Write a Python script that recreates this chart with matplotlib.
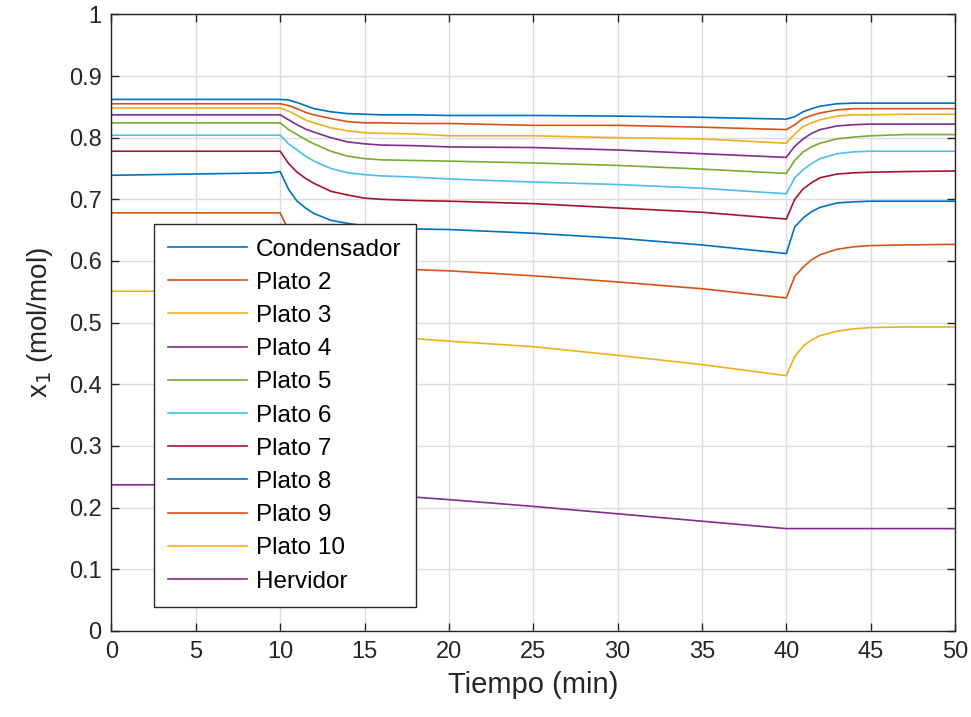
import matplotlib
matplotlib.use("Agg")
import matplotlib.pyplot as plt

plt.rcParams['font.family'] = ['Liberation Sans', 'DejaVu Sans']

# Time points (min)
t = [0, 9.5, 10, 10.5, 11, 11.5, 12, 13, 14, 15, 16, 18, 20, 25, 30, 35,
     40, 40.5, 41, 41.5, 42, 43, 44, 45, 47, 50]

condensador = [0.862, 0.862, 0.862, 0.861, 0.857, 0.852, 0.847, 0.842, 0.839, 0.838, 0.837, 0.837, 0.836, 0.836, 0.835, 0.833,
               0.830, 0.834, 0.842, 0.847, 0.851, 0.855, 0.856, 0.856, 0.856, 0.856]
plato2 = [0.855, 0.855, 0.855, 0.852, 0.847, 0.841, 0.837, 0.831, 0.826, 0.824, 0.824, 0.823, 0.823, 0.820, 0.820, 0.817,
          0.813, 0.821, 0.831, 0.836, 0.840, 0.845, 0.847, 0.847, 0.847, 0.847]
plato3 = [0.848, 0.848, 0.848, 0.843, 0.836, 0.829, 0.824, 0.816, 0.811, 0.808, 0.807, 0.806, 0.803, 0.803, 0.800, 0.798,
          0.791, 0.806, 0.818, 0.824, 0.829, 0.835, 0.837, 0.837, 0.838, 0.838]
plato4 = [0.837, 0.837, 0.837, 0.829, 0.821, 0.814, 0.809, 0.800, 0.793, 0.790, 0.788, 0.787, 0.785, 0.784, 0.780, 0.774,
          0.768, 0.786, 0.798, 0.807, 0.813, 0.819, 0.821, 0.822, 0.822, 0.822]
plato5 = [0.824, 0.824, 0.824, 0.813, 0.805, 0.797, 0.790, 0.778, 0.770, 0.766, 0.764, 0.763, 0.762, 0.759, 0.755, 0.749,
          0.742, 0.763, 0.777, 0.785, 0.791, 0.798, 0.801, 0.803, 0.805, 0.805]
plato6 = [0.804, 0.804, 0.804, 0.790, 0.780, 0.770, 0.762, 0.750, 0.743, 0.740, 0.738, 0.736, 0.733, 0.728, 0.724, 0.718,
          0.709, 0.735, 0.748, 0.758, 0.766, 0.774, 0.777, 0.778, 0.778, 0.778]
plato7 = [0.778, 0.778, 0.778, 0.758, 0.744, 0.734, 0.726, 0.713, 0.707, 0.702, 0.700, 0.698, 0.697, 0.693, 0.686, 0.679,
          0.668, 0.700, 0.717, 0.727, 0.735, 0.741, 0.743, 0.744, 0.745, 0.746]
plato8 = [0.739, 0.743, 0.745, 0.716, 0.697, 0.686, 0.677, 0.666, 0.661, 0.657, 0.655, 0.652, 0.651, 0.645, 0.637, 0.626,
          0.612, 0.655, 0.670, 0.680, 0.687, 0.694, 0.696, 0.697, 0.697, 0.697]
plato9 = [0.678, 0.678, 0.678, 0.650, 0.632, 0.619, 0.610, 0.599, 0.594, 0.591, 0.589, 0.586, 0.584, 0.576, 0.566, 0.555,
          0.540, 0.575, 0.590, 0.602, 0.610, 0.619, 0.623, 0.625, 0.626, 0.627]
plato10 = [0.551, 0.551, 0.551, 0.530, 0.515, 0.505, 0.498, 0.489, 0.484, 0.481, 0.478, 0.474, 0.470, 0.461, 0.447, 0.432,
           0.414, 0.445, 0.462, 0.472, 0.479, 0.486, 0.490, 0.492, 0.493, 0.493]
hervidor = [0.237, 0.237, 0.237, 0.236, 0.234, 0.233, 0.232, 0.229, 0.227, 0.225, 0.222, 0.217, 0.213, 0.202, 0.190, 0.178,
            0.166, 0.166, 0.166, 0.166, 0.166, 0.166, 0.166, 0.166, 0.166, 0.166]

series = [condensador, plato2, plato3, plato4, plato5, plato6, plato7, plato8, plato9, plato10, hervidor]
labels = ['Condensador', 'Plato 2', 'Plato 3', 'Plato 4', 'Plato 5', 'Plato 6',
          'Plato 7', 'Plato 8', 'Plato 9', 'Plato 10', 'Hervidor']
colors = ['#0072BD', '#D95319', '#EDB120', '#7E2F8E', '#77AC30', '#4DBEEE', '#A2142F']

x_ticks = [0, 5, 10, 15, 20, 25, 30, 35, 40, 45, 50]
y_ticks = [0, 0.1, 0.2, 0.3, 0.4, 0.5, 0.6, 0.7, 0.8, 0.9, 1]
y_ticklabels = ['0', '0.1', '0.2', '0.3', '0.4', '0.5', '0.6', '0.7', '0.8', '0.9', '1']

fig = plt.figure(figsize=(9.71, 7.17), dpi=100)
ax = fig.add_axes([0.1148, 0.12, 0.8687, 0.860])

for i, (ys, lab) in enumerate(zip(series, labels)):
    ax.plot(t, ys, color=colors[i % len(colors)], lw=1.2, label=lab)

ax.set_xlim(0, 50)
ax.set_ylim(0, 1)
ax.set_xticks(x_ticks)
ax.set_xticklabels([str(v) for v in x_ticks])
ax.set_yticks(y_ticks)
ax.set_yticklabels(y_ticklabels)
ax.grid(True, color='#dddddd', lw=1.0)
ax.set_axisbelow(True)
ax.tick_params(direction='in', top=True, right=True, length=6, width=1.0,
               labelsize=17, colors='#262626', pad=7)
for sp in ax.spines.values():
    sp.set_color('#262626')
    sp.set_linewidth(1.0)

ax.set_xlabel('Tiempo (min)', fontsize=21, color='#262626', labelpad=6)
ax.set_ylabel(r'x$_1$ (mol/mol)', fontsize=20, color='#262626', labelpad=10)

leg = ax.legend(loc='upper left', bbox_to_anchor=(0.05, 0.66), borderaxespad=0,
                fontsize=17.5, frameon=True, fancybox=False, framealpha=1,
                edgecolor='#262626', handlelength=3.25, labelspacing=0.46,
                borderpad=0.6, handletextpad=0.35)
leg.get_frame().set_linewidth(1.0)

fig.savefig('out.png', dpi=100, facecolor='white')
